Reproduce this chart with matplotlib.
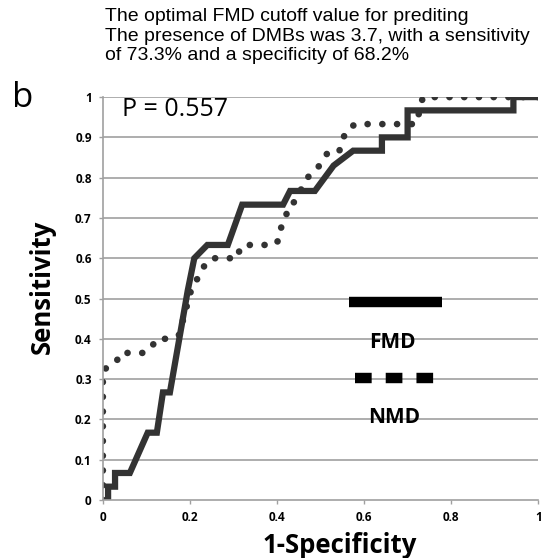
import matplotlib.pyplot as plt

# ROC curve points
fmd_x = [0.012, 0.012, 0.028, 0.028, 0.062, 0.103, 0.124, 0.138, 0.154, 0.195, 0.21,
         0.24, 0.287, 0.32, 0.414, 0.43, 0.487, 0.53, 0.575, 0.641, 0.641, 0.70, 0.70,
         0.943, 0.943, 1.0]
fmd_y = [0.0, 0.033, 0.033, 0.067, 0.067, 0.167, 0.167, 0.267, 0.267, 0.52, 0.60,
         0.633, 0.633, 0.733, 0.733, 0.767, 0.767, 0.83, 0.867, 0.867, 0.90, 0.90, 0.967,
         0.967, 1.0, 1.0]

nmd_x = [0.0, 0.0, 0.012, 0.032, 0.04, 0.068, 0.097, 0.112, 0.124, 0.152, 0.175, 0.205,
         0.228, 0.235, 0.255, 0.31, 0.315, 0.338, 0.395, 0.407, 0.41, 0.42, 0.425, 0.44,
         0.47, 0.494, 0.517, 0.543, 0.549, 0.56, 0.58, 0.72, 0.735, 1.0]
nmd_y = [0.0, 0.318, 0.333, 0.345, 0.365, 0.365, 0.365, 0.38, 0.40, 0.40, 0.41, 0.53,
         0.566, 0.588, 0.60, 0.60, 0.628, 0.633, 0.633, 0.65, 0.68, 0.70, 0.727, 0.74,
         0.80, 0.825, 0.863, 0.865, 0.89, 0.918, 0.933, 0.933, 1.0, 1.0]

ticks = [0, 0.2, 0.4, 0.6, 0.8, 1]
yticks = [0, 0.1, 0.2, 0.3, 0.4, 0.5, 0.6, 0.7, 0.8, 0.9, 1]

fig = plt.figure(figsize=(5.56, 5.58), dpi=100)
ax = fig.add_axes([0.185, 0.104, 0.783, 0.722])

for y in yticks[1:]:
    ax.axhline(y, color='#a0a0a0', lw=1.2, zorder=0)

ax.plot(fmd_x, fmd_y, color='#333333', lw=4.5, solid_joinstyle='miter')
ax.plot(nmd_x, nmd_y, color='#333333', lw=4.8, linestyle=(0, (0.01, 2.2)),
        dash_capstyle='round')

# legend drawn inside the plot like the original
ax.plot([0.565, 0.78], [0.491, 0.491], color='black', lw=7.5, solid_capstyle='butt')
ax.plot([0.58, 0.76], [0.303, 0.303], color='black', lw=7.5,
        linestyle=(0, (1.6, 1.35)), dash_capstyle='butt')
ax.text(0.665, 0.39, 'FMD', ha='center', va='center', fontsize=15,
        fontweight='bold', family='Open Sans')
ax.text(0.67, 0.205, 'NMD', ha='center', va='center', fontsize=15,
        fontweight='bold', family='Open Sans')
ax.text(0.045, 0.97, 'P = 0.557', ha='left', va='center', fontsize=18,
        family='Open Sans')

ax.set_xlim(0, 1)
ax.set_ylim(0, 1)
ax.set_xticks(ticks)
ax.set_xticklabels(['0', '0.2', '0.4', '0.6', '0.8', '1'])
ax.set_yticks(yticks)
ax.set_yticklabels(['0', '0.1', '0.2', '0.3', '0.4', '0.5', '0.6', '0.7', '0.8',
                    '0.9', '1'])
ax.tick_params(labelsize=8.5, length=3, width=1, color='#a0a0a0', pad=5)
for lab in ax.get_xticklabels() + ax.get_yticklabels():
    lab.set_fontweight('bold')
    lab.set_family('Open Sans')
ax.set_xlabel('1-Specificity', fontsize=18.5, fontweight='bold', family='Open Sans')
ax.set_ylabel('Sensitivity', fontsize=18.5, fontweight='bold', family='Open Sans')
ax.yaxis.set_label_coords(-0.108, 0.53)
ax.xaxis.set_label_coords(0.545, -0.08)
for s in ['top', 'right']:
    ax.spines[s].set_visible(False)
for s in ['left', 'bottom']:
    ax.spines[s].set_color('#a0a0a0')
    ax.spines[s].set_linewidth(1.2)

fig.text(0.022, 0.808, 'b', fontsize=25, family='Open Sans', va='baseline')
fig.text(0.189, 0.985,
         'The optimal FMD cutoff value for prediting\n'
         'The presence of DMBs was 3.7, with a sensitivity\n'
         'of 73.3% and a specificity of 68.2%',
         ha='left', va='top', fontsize=14, family='Liberation Sans', linespacing=1.18)

fig.savefig('out.png', dpi=100)
